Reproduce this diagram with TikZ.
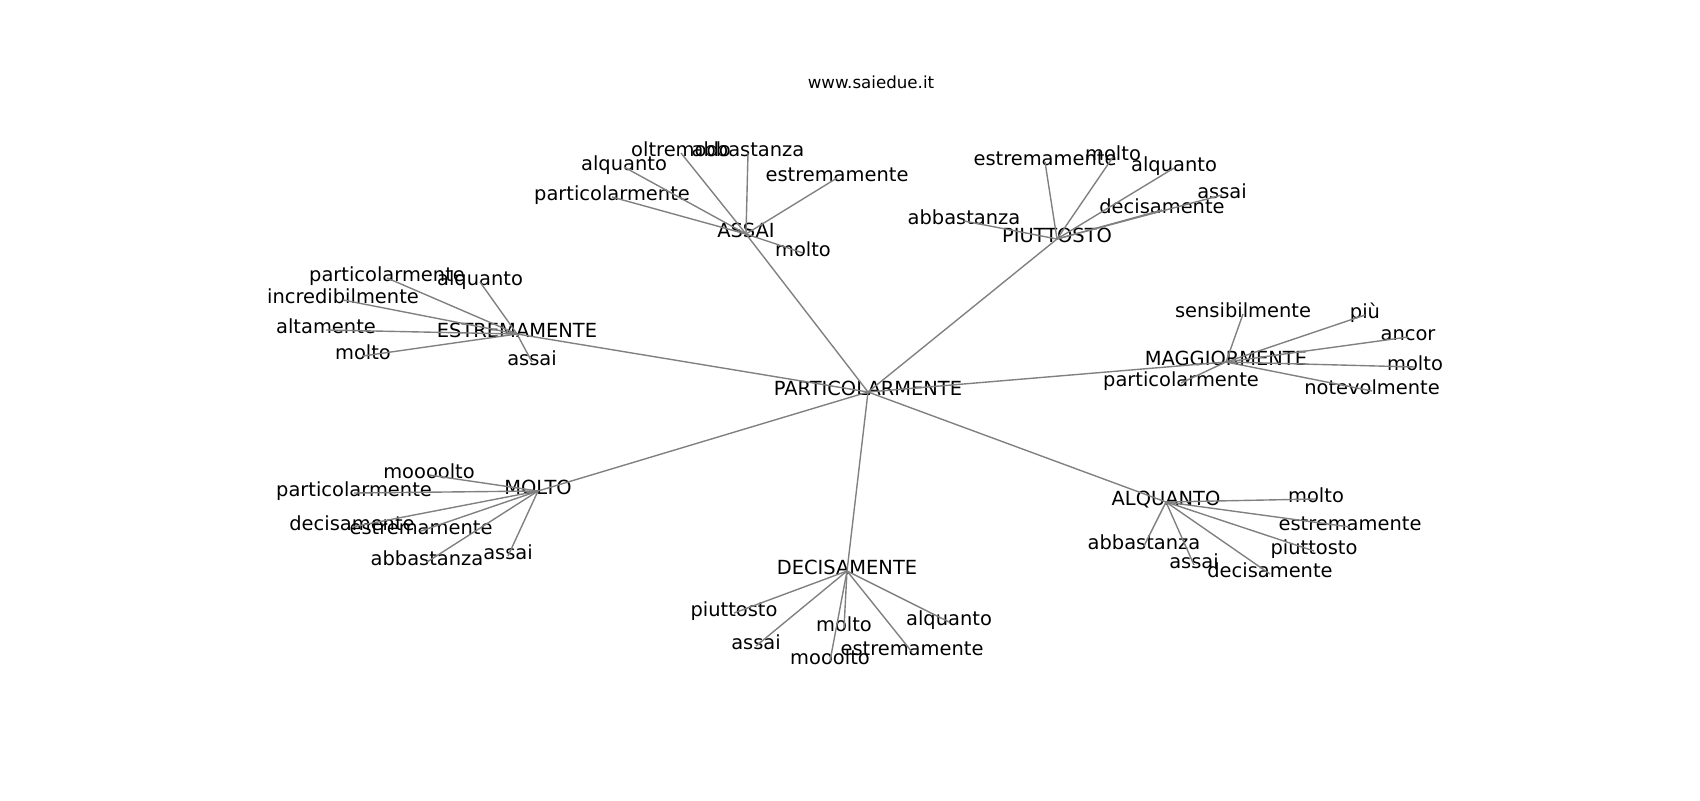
\documentclass[tikz,border=0pt]{standalone}
\usepackage{fontspec}
\setmainfont{DejaVu Sans}
\begin{document}
\begin{tikzpicture}[x=0.72pt,y=-0.72pt,
  lbl/.style={inner sep=0pt,outer sep=0pt,text height=0.76em,text depth=0.21em,anchor=center,font=\fontsize{14}{17}\selectfont,text=black},
  edge/.style={draw=gray,line width=1pt}]
\useasboundingbox (0,0) rectangle (1700,800);
% title
\node[anchor=base,inner sep=0pt,font=\fontsize{12}{14}\selectfont] (title) at (871,88) {www.saiedue.it};
\begin{scope}[shift={(0,2)}]
% hubs
\node[lbl] (P) at (868,390) {PARTICOLARMENTE};
\node[lbl] (AS) at (746,232) {ASSAI};
\node[lbl] (PI) at (1057,237) {PIUTTOSTO};
\node[lbl] (ES) at (517,332) {ESTREMAMENTE};
\node[lbl] (MA) at (1226,360) {MAGGIORMENTE};
\node[lbl] (MO) at (538,489) {MOLTO};
\node[lbl] (DE) at (847,569) {DECISAMENTE};
\node[lbl] (AL) at (1166,500) {ALQUANTO};
% ASSAI leaves
\node[lbl] (as1) at (681,151) {oltremodo};
\node[lbl] (as2) at (748,151) {abbastanza};
\node[lbl] (as3) at (624,165) {alquanto};
\node[lbl] (as4) at (612,195) {particolarmente};
\node[lbl] (as5) at (837,176) {estremamente};
\node[lbl] (as6) at (803,251) {molto};
% PIUTTOSTO leaves
\node[lbl] (pi1) at (1045,160) {estremamente};
\node[lbl] (pi2) at (1113,155) {molto};
\node[lbl] (pi3) at (1174,166) {alquanto};
\node[lbl] (pi4) at (1222,193) {assai};
\node[lbl] (pi5) at (1162,208) {decisamente};
\node[lbl] (pi6) at (964,219) {abbastanza};
% ESTREMAMENTE leaves
\node[lbl] (es1) at (387,276) {particolarmente};
\node[lbl] (es2) at (480,280) {alquanto};
\node[lbl] (es3) at (343,298) {incredibilmente};
\node[lbl] (es4) at (326,328) {altamente};
\node[lbl] (es5) at (363,354) {molto};
\node[lbl] (es6) at (532,360) {assai};
% MAGGIORMENTE leaves
\node[lbl] (ma1) at (1243,312) {sensibilmente};
\node[lbl] (ma2) at (1365,313) {più};
\node[lbl] (ma3) at (1408,335) {ancor};
\node[lbl] (ma4) at (1415,365) {molto};
\node[lbl] (ma5) at (1372,389) {notevolmente};
\node[lbl] (ma6) at (1181,381) {particolarmente};
% MOLTO leaves
\node[lbl] (mo1) at (429,473) {moooolto};
\node[lbl] (mo2) at (354,491) {particolarmente};
\node[lbl] (mo3) at (352,525) {decisamente};
\node[lbl] (mo4) at (421,529) {estremamente};
\node[lbl] (mo5) at (427,560) {abbastanza};
\node[lbl] (mo6) at (508,554) {assai};
% DECISAMENTE leaves
\node[lbl] (de1) at (734,611) {piuttosto};
\node[lbl] (de2) at (756,644) {assai};
\node[lbl] (de3) at (844,626) {molto};
\node[lbl] (de4) at (830,659) {mooolto};
\node[lbl] (de5) at (949,620) {alquanto};
\node[lbl] (de6) at (912,650) {estremamente};
% ALQUANTO leaves
\node[lbl] (al1) at (1316,497) {molto};
\node[lbl] (al2) at (1350,525) {estremamente};
\node[lbl] (al3) at (1314,549) {piuttosto};
\node[lbl] (al4) at (1144,544) {abbastanza};
\node[lbl] (al5) at (1194,563) {assai};
\node[lbl] (al6) at (1270,572) {decisamente};
\end{scope}
% edges
\foreach \h in {AS,PI,ES,MA,MO,DE,AL} {\draw[edge] (P.center) -- (\h.center);}
\foreach \i in {1,...,6} {
  \draw[edge] (AS.center) -- (as\i.center);
  \draw[edge] (PI.center) -- (pi\i.center);
  \draw[edge] (ES.center) -- (es\i.center);
  \draw[edge] (MA.center) -- (ma\i.center);
  \draw[edge] (MO.center) -- (mo\i.center);
  \draw[edge] (DE.center) -- (de\i.center);
  \draw[edge] (AL.center) -- (al\i.center);
}
\end{tikzpicture}
\end{document}
